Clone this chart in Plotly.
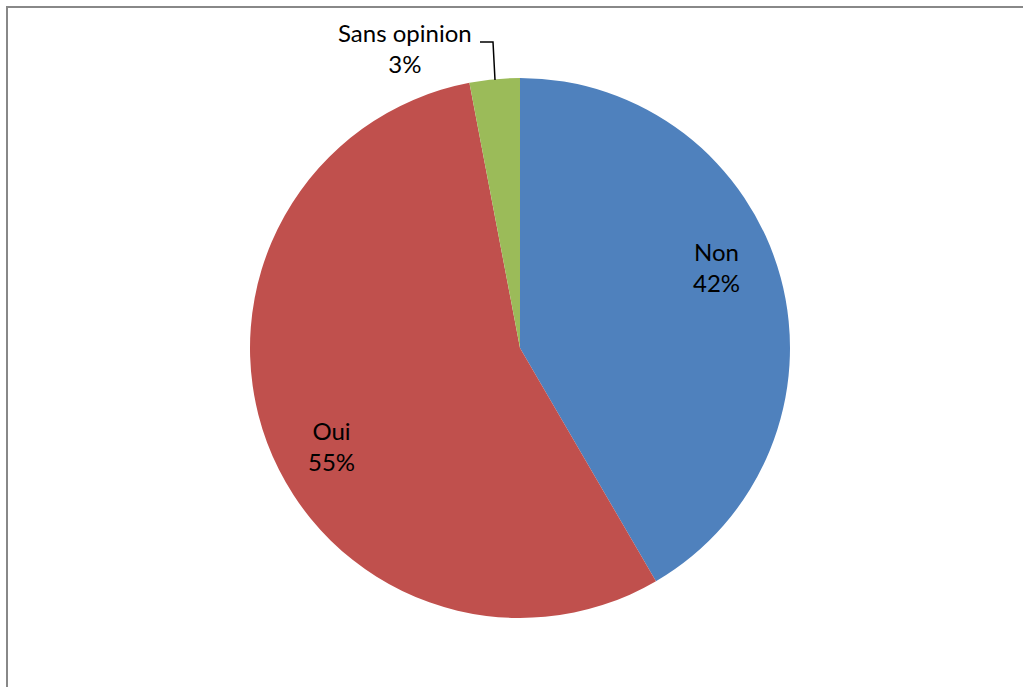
import plotly.graph_objects as go

labels = ["Non", "Oui", "Sans opinion"]
values = [41.6, 55.4, 3.0]
pct_text = ["42%", "55%", "3%"]
colors = ["#4F81BD", "#C0504D", "#9BBB59"]

W, H = 1023, 687
cx, cy, R = 520, 348, 270
FONT = dict(family="Lato, Open Sans, sans-serif", size=24, color="black")

fig = go.Figure()
fig.add_trace(go.Pie(
    labels=labels,
    values=values,
    sort=False,
    direction="clockwise",
    rotation=0,
    marker=dict(colors=colors, line=dict(width=0)),
    textinfo="none",
    showlegend=False,
    hoverinfo="label+percent",
    domain=dict(x=[(cx - R) / W, (cx + R) / W], y=[(H - cy - R) / H, (H - cy + R) / H]),
))

# data labels (pixel positions)
label_pos = [(716, 267), (331, 446), (405, 48)]
for lab, pct, (px, py) in zip(labels, pct_text, label_pos):
    fig.add_annotation(
        x=px / W, y=1 - py / H, xref="paper", yref="paper",
        xanchor="center", yanchor="middle",
        text=f"{lab}<br>{pct}",
        showarrow=False,
        font=FONT,
    )

# leader line for the small slice
fig.add_shape(type="path", xref="paper", yref="paper",
              path=f"M {480/W} {1-42/H} L {493/W} {1-42/H} L {495/W} {1-80/H}",
              line=dict(color="black", width=1.5))

# chart border (left and top)
fig.add_shape(type="path", xref="paper", yref="paper",
              path=f"M {7/W} {0} L {7/W} {1-7/H} L {1} {1-7/H}",
              line=dict(color="#888888", width=2))

fig.update_layout(
    width=W, height=H,
    margin=dict(l=0, r=0, t=0, b=0),
    paper_bgcolor="white",
    plot_bgcolor="white",
)

fig.write_html("out.html")
